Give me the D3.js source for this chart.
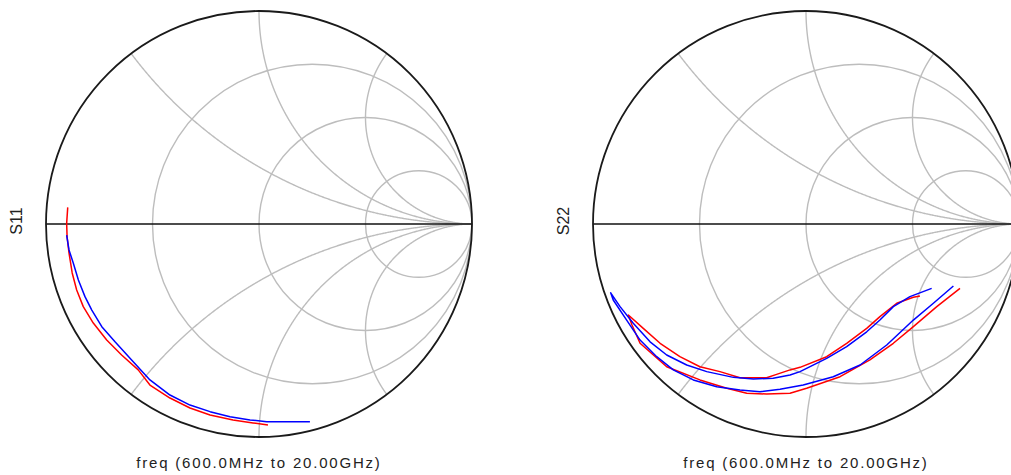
<!DOCTYPE html>
<html>
<head>
<meta charset="utf-8">
<script src="https://cdn.jsdelivr.net/npm/d3@7"></script>
<style>
  html, body { margin: 0; padding: 0; background: #fff; }
  svg { display: block; }
  text { font-family: "Liberation Sans", Arial, sans-serif; fill: #222; }
</style>
</head>
<body>
<svg id="chart" width="1011" height="475"></svg>
<script>
// Smith chart grid: constant-resistance circles and constant-reactance arcs
const resistanceValues = [1 / 3, 1, 3];
const reactanceValues = [0.5, 1, 2, -0.5, -1, -2];

// Reflection coefficients (real, imaginary) along the sweep
const s11RedRe = [-0.898, -0.903, -0.901, -0.892, -0.877, -0.856, -0.825, -0.778, -0.715, -0.645, -0.567, -0.512, -0.418, -0.324, -0.230, -0.122, -0.028, 0.042];
const s11RedIm = [0.078, 0.003, -0.060, -0.136, -0.230, -0.310, -0.388, -0.465, -0.545, -0.615, -0.685, -0.756, -0.817, -0.864, -0.897, -0.920, -0.934, -0.944];

const s11BlueRe = [-0.903, -0.892, -0.872, -0.848, -0.817, -0.785, -0.738, -0.676, -0.598, -0.512, -0.418, -0.324, -0.230, -0.136, -0.042, 0.036, 0.239];
const s11BlueIm = [-0.052, -0.122, -0.183, -0.263, -0.341, -0.404, -0.482, -0.553, -0.638, -0.732, -0.803, -0.850, -0.881, -0.905, -0.920, -0.928, -0.928];

const s22BlueRe = [0.590, 0.488, 0.410, 0.347, 0.285, 0.191, 0.097, -0.028, -0.075, -0.154, -0.247, -0.341, -0.466, -0.560, -0.654, -0.732, -0.811, -0.873, -0.917,
  -0.905, -0.842, -0.779, -0.701, -0.623, -0.529, -0.419, -0.310, -0.216, -0.122, -0.013, 0.128, 0.254, 0.379, 0.504, 0.598, 0.692];
const s22BlueIm = [-0.302, -0.341, -0.388, -0.451, -0.506, -0.576, -0.631, -0.693, -0.709, -0.724, -0.728, -0.720, -0.693, -0.662, -0.615, -0.553, -0.466, -0.388, -0.323,
  -0.357, -0.451, -0.545, -0.623, -0.685, -0.732, -0.764, -0.779, -0.787, -0.776, -0.756, -0.717, -0.662, -0.568, -0.451, -0.372, -0.291];

const s22RedRe = [0.535, 0.504, 0.426, 0.347, 0.285, 0.191, 0.097, -0.028, -0.075, -0.138, -0.185, -0.310, -0.404, -0.498, -0.592, -0.685, -0.764, -0.834,
  -0.817, -0.779, -0.654, -0.498, -0.372, -0.278, -0.185, -0.075, 0.003, 0.160, 0.300, 0.410, 0.504, 0.614, 0.723];
const s22RedIm = [-0.338, -0.344, -0.372, -0.435, -0.490, -0.560, -0.623, -0.673, -0.685, -0.706, -0.722, -0.722, -0.693, -0.670, -0.623, -0.560, -0.490, -0.427,
  -0.474, -0.560, -0.670, -0.732, -0.771, -0.795, -0.798, -0.795, -0.771, -0.717, -0.638, -0.560, -0.482, -0.388, -0.302];

const freqLabel = "freq (600.0MHz to 20.00GHz)";

const charts = [
  { name: "S11", cx: 259, cy: 224, traces: [
    { re: s11RedRe, im: s11RedIm, color: "#ff0000" },
    { re: s11BlueRe, im: s11BlueIm, color: "#0000ff" } ] },
  { name: "S22", cx: 806, cy: 224, traces: [
    { re: s22RedRe, im: s22RedIm, color: "#ff0000" },
    { re: s22BlueRe, im: s22BlueIm, color: "#0000ff" } ] }
];

const R = 213;
const svg = d3.select("#chart");

function gammaOf(r, x) {
  const d = (r + 1) * (r + 1) + x * x;
  return [(r * r - 1 + x * x) / d, (2 * x) / d];
}

charts.forEach(c => {
  const sx = d3.scaleLinear().domain([-1, 1]).range([c.cx - R, c.cx + R]);
  const sy = d3.scaleLinear().domain([-1, 1]).range([c.cy + R, c.cy - R]);
  const line = d3.line().x(d => sx(d[0])).y(d => sy(d[1]));
  const g = svg.append("g");

  // constant-resistance circles
  resistanceValues.forEach(r => {
    const cen = r / (1 + r), rad = 1 / (1 + r);
    g.append("circle")
      .attr("cx", sx(cen)).attr("cy", sy(0))
      .attr("r", sx(rad) - sx(0))
      .attr("fill", "none").attr("stroke", "#bdbdbd").attr("stroke-width", 1.4);
  });

  // constant-reactance arcs, traced from r = 0 to r -> infinity
  reactanceValues.forEach(x => {
    const pts = d3.range(0, 1, 0.002).map(t => gammaOf(t / (1 - t), x));
    pts.push([1, 0]);
    g.append("path").attr("d", line(pts))
      .attr("fill", "none").attr("stroke", "#bdbdbd").attr("stroke-width", 1.4);
  });

  // real axis and unit circle
  g.append("line")
    .attr("x1", sx(-1)).attr("x2", sx(1)).attr("y1", sy(0)).attr("y2", sy(0))
    .attr("stroke", "#111").attr("stroke-width", 1.5);
  g.append("circle")
    .attr("cx", sx(0)).attr("cy", sy(0)).attr("r", R)
    .attr("fill", "none").attr("stroke", "#1a1a1a").attr("stroke-width", 1.8);

  // measured traces
  c.traces.forEach(tr => {
    const pts = tr.re.map((v, i) => [v, tr.im[i]]);
    g.append("path").attr("d", line(pts))
      .attr("fill", "none").attr("stroke", tr.color)
      .attr("stroke-width", 1.5).attr("stroke-linejoin", "round");
  });

  // labels
  g.append("text")
    .attr("transform", `translate(${c.cx - 237},${c.cy - 3}) rotate(-90)`)
    .attr("text-anchor", "middle")
    .style("font-size", "16px")
    .text(c.name);
  g.append("text")
    .attr("x", c.cx).attr("y", 468)
    .attr("text-anchor", "middle")
    .style("font-size", "15px")
    .style("letter-spacing", "1.8px")
    .text(freqLabel);
});
</script>
</body>
</html>
